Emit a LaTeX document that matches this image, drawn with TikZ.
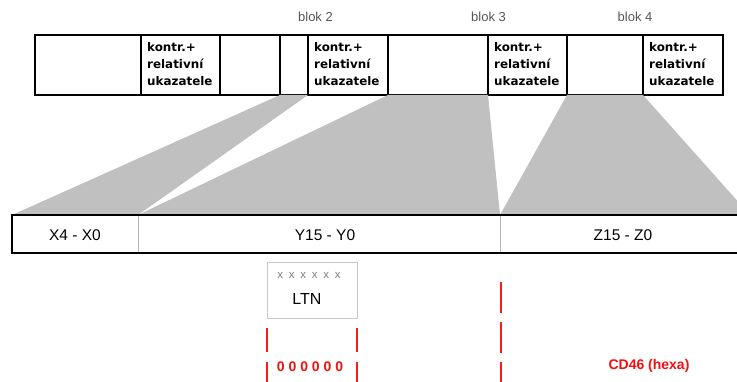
\documentclass[tikz,border=0pt]{standalone}
\usepackage{fontspec}
\setmainfont{Liberation Sans}
\newfontfamily\dejavu{DejaVu Sans}
\definecolor{shade}{HTML}{C0C0C0}
\definecolor{lightframe}{HTML}{C8C8C8}
\definecolor{blokgray}{HTML}{555555}
\definecolor{divgray}{HTML}{B4B4B4}
\definecolor{redtext}{HTML}{F01010}
\begin{document}
\begin{tikzpicture}[x=1pt,y=-1pt,
  cell/.style={draw, line width=1.4pt, minimum height=60pt, inner sep=0pt, outer sep=0pt, anchor=north west},
  bcell/.style={minimum height=38pt, inner sep=0pt, outer sep=0pt, anchor=north west},
  kontr/.style={font=\dejavu\bfseries\fontsize{11.9}{17}\selectfont, align=left, anchor=west, inner sep=0pt},
  blok/.style={font=\fontsize{13}{15}\selectfont, text=blokgray, inner sep=0pt},
  barlabel/.style={font=\fontsize{15.5}{18}\selectfont, inner sep=0pt},
  redlab/.style={font=\bfseries\fontsize{14}{16}\selectfont, text=redtext, inner sep=0pt},
  polyfill/.style={fill=shade, draw=none},
  redmark/.style={draw=red!90, line width=1.1pt}
]
\useasboundingbox (0,0) rectangle (737,382);
\clip (0,0) rectangle (737,382);

% top bar cells
\node[cell, minimum width=106pt] (c1) at (35,35) {};
\node[cell, minimum width=79pt] (c2) at (141,35) {};
\node[cell, minimum width=60pt] (c3) at (220,35) {};
\node[cell, minimum width=28pt] (c4) at (280,35) {};
\node[cell, minimum width=80pt] (c5) at (308,35) {};
\node[cell, minimum width=100pt] (c6) at (388,35) {};
\node[cell, minimum width=79pt] (c7) at (488,35) {};
\node[cell, minimum width=76pt] (c8) at (567,35) {};
\node[cell, minimum width=80pt] (c9) at (643,35) {};
\draw[line width=2.2pt] (c1.north west) rectangle (c9.south east);

\node[kontr] (k2) at ([xshift=6pt,yshift=1pt]c2.west) {kontr.+\\relativní\\ukazatele};
\node[kontr] (k5) at ([xshift=6pt,yshift=1pt]c5.west) {kontr.+\\relativní\\ukazatele};
\node[kontr] (k7) at ([xshift=6pt,yshift=1pt]c7.west) {kontr.+\\relativní\\ukazatele};
\node[kontr] (k9) at ([xshift=6pt,yshift=1pt]c9.west) {kontr.+\\relativní\\ukazatele};

\node[blok] (bl2) at (315.5,17) {blok 2};
\node[blok] (bl3) at (488.5,17) {blok 3};
\node[blok] (bl4) at (635,17) {blok 4};

% bottom bar cells
\node[bcell, minimum width=126pt] (b1) at (12,215) {};
\node[bcell, minimum width=362pt] (b2) at (138,215) {};
\node[bcell, minimum width=250pt] (b3) at (500,215) {};

% gray projections
\fill[polyfill] (c4.south west) -- (c4.south east) -- (b1.north east) -- (b1.north west) -- cycle;
\fill[polyfill] (c6.south west) -- (c6.south east) -- (b2.north east) -- (b2.north west) -- cycle;
\fill[polyfill] (c8.south west) -- (c8.south east) -- (b3.north east) -- (b3.north west) -- cycle;

% bottom bar lines
\draw[divgray, line width=1pt] (b1.north east) -- (b1.south east);
\draw[divgray, line width=1pt] (b2.north east) -- (b2.south east);
\draw[line width=2pt] (b3.north east) -- (b1.north west) -- (b1.south west) -- (b3.south east);

\node[barlabel] (x) at (75,235) {X4 - X0};
\node[barlabel] (y) at (325,235) {Y15 - Y0};
\node[barlabel] (z) at (623,235) {Z15 - Z0};

% LTN box
\node[draw=lightframe, line width=1pt, minimum width=90pt, minimum height=56pt, inner sep=0pt, anchor=north west] (ltn) at (267,262) {};
\node[font=\fontsize{11.5}{12}\selectfont, text=gray, inner sep=0pt] (xs) at (309,275) {\spaceskip=5.8pt x x x x x x};
\node[font=\fontsize{16}{18}\selectfont, inner sep=0pt] (ltnlab) at (307,299) {LTN};

% red dashed markers
\coordinate (l1t) at (267,328);
\coordinate (l1b) at (267,384);
\coordinate (l2t) at (357,328);
\coordinate (l2b) at (357,384);
\coordinate (m1t) at (501,282);
\coordinate (m1b) at (501,384);
\draw[redmark, dash pattern=on 24pt off 10pt] (l1t) -- (l1b);
\draw[redmark, dash pattern=on 24pt off 10pt] (l2t) -- (l2b);
\draw[redmark, dash pattern=on 31pt off 9pt] (m1t) -- (m1b);

\node[redlab] (zeros) at (310,367) {0 0 0 0 0 0};
\node[redlab] (cd) at (649,366) {CD46 (hexa)};
\end{tikzpicture}
\end{document}
